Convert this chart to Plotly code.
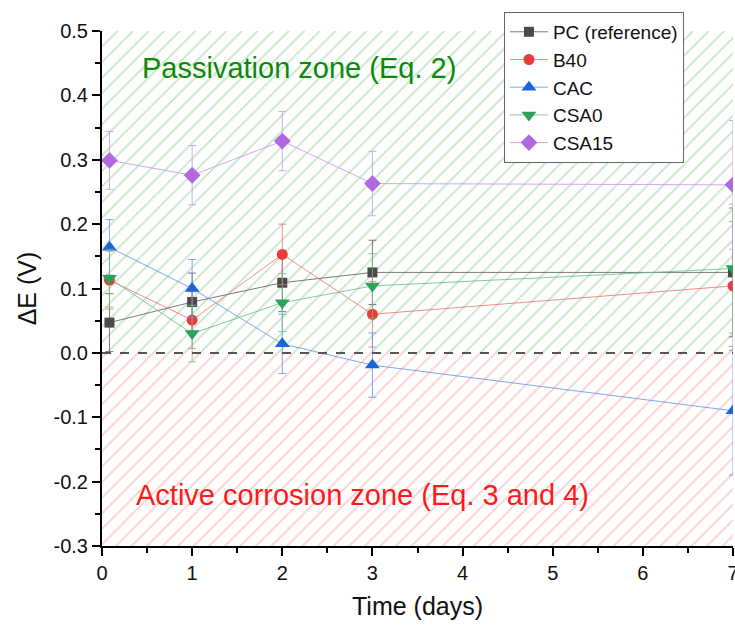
import plotly.graph_objects as go

# Sampling times (days)
days = [0.083, 1, 2, 3, 7]

# Potential difference ΔE (V) for each mix, with standard deviations
pc_ref = [0.047, 0.079, 0.109, 0.125, 0.125]
pc_err = [0.045, 0.045, 0.045, 0.050, 0.100]

b40 = [0.113, 0.051, 0.153, 0.060, 0.104]
b40_err = [0.045, 0.044, 0.047, 0.051, 0.100]

cac = [0.164, 0.100, 0.014, -0.019, -0.090]
cac_err = [0.043, 0.045, 0.046, 0.050, 0.100]

csa0 = [0.116, 0.030, 0.078, 0.104, 0.131]
csa0_err = [0.045, 0.044, 0.045, 0.050, 0.100]

csa15 = [0.299, 0.276, 0.329, 0.263, 0.261]
csa15_err = [0.045, 0.046, 0.046, 0.050, 0.100]

x_ticks = [0, 1, 2, 3, 4, 5, 6, 7]
y_ticks = [-0.3, -0.2, -0.1, 0.0, 0.1, 0.2, 0.3, 0.4, 0.5]
y_tick_text = [f"{v:.1f}" for v in y_ticks]

FONT = "Liberation Sans, Arial, sans-serif"

fig = go.Figure()

# Hatched zones
fig.add_trace(go.Scatter(
    x=[0, 7, 7, 0, 0], y=[0, 0, 0.5, 0.5, 0], mode="none", fill="toself",
    fillcolor="rgba(0,0,0,0)",
    fillpattern=dict(shape="/", fgcolor="#8acb8a", bgcolor="white",
                     size=11, solidity=0.15),
    hoverinfo="skip", showlegend=False))
fig.add_trace(go.Scatter(
    x=[0, 7, 7, 0, 0], y=[-0.3, -0.3, 0, 0, -0.3], mode="none", fill="toself",
    fillcolor="rgba(0,0,0,0)",
    fillpattern=dict(shape="/", fgcolor="#f59c9c", bgcolor="white",
                     size=11, solidity=0.15),
    hoverinfo="skip", showlegend=False))

series = [
    ("PC (reference)", pc_ref, pc_err, "square", 10, "#4a4a4a", "rgba(90,90,90,0.8)"),
    ("B40", b40, b40_err, "circle", 11, "#ee3a3a", "rgba(240,110,110,0.8)"),
    ("CAC", cac, cac_err, "triangle-up", 13, "#1a64dc", "rgba(90,150,230,0.8)"),
    ("CSA0", csa0, csa0_err, "triangle-down", 13, "#2ca25a", "rgba(100,190,130,0.8)"),
    ("CSA15", csa15, csa15_err, "diamond", 13, "#b06ae0", "rgba(200,160,235,0.9)"),
]

for name, vals, errs, sym, size, mcol, lcol in series:
    fig.add_trace(go.Scatter(
        x=days, y=vals, name=name, mode="lines+markers",
        line=dict(color=lcol, width=1),
        marker=dict(symbol=sym, size=size, color=mcol, line=dict(width=0)),
        error_y=dict(type="data", array=errs, visible=True, color=lcol,
                     thickness=1, width=4),
    ))

# Zero reference line
fig.add_shape(type="line", x0=0, x1=7, y0=0, y1=0, xref="x", yref="y",
              line=dict(color="#555555", width=2, dash="dash"))

fig.add_annotation(x=0.42, y=0.443, xref="x", yref="y", xanchor="left",
                   text="Passivation zone (Eq. 2)", showarrow=False,
                   font=dict(family=FONT, size=29, color="#0a8a0a"))
fig.add_annotation(x=0.35, y=-0.221, xref="x", yref="y", xanchor="left",
                   text="Active corrosion zone (Eq. 3 and 4)", showarrow=False,
                   font=dict(family=FONT, size=29, color="#ff1a1a"))

fig.update_xaxes(
    range=[0, 7], tickvals=x_ticks, ticks="outside", ticklen=8, tickwidth=2,
    tickcolor="black", showline=True, linecolor="black", linewidth=2,
    showgrid=False, zeroline=False, ticklabeloverflow="allow", automargin=False,
    minor=dict(dtick=0.5, ticks="outside", ticklen=5, tickwidth=2, tickcolor="black"),
    title=dict(text="Time (days)", font=dict(family=FONT, size=25, color="#111"),
               standoff=14),
    tickfont=dict(family=FONT, size=20, color="#111"),
)
fig.update_yaxes(
    range=[-0.3, 0.5], tickvals=y_ticks, ticktext=y_tick_text, ticks="outside",
    ticklen=8, tickwidth=2, tickcolor="black", showline=True, linecolor="black",
    linewidth=2, showgrid=False, zeroline=False, automargin=False,
    minor=dict(dtick=0.05, ticks="outside", ticklen=5, tickwidth=2, tickcolor="black"),
    title=dict(text="ΔE (V)", font=dict(family=FONT, size=25, color="#111"),
               standoff=10),
    tickfont=dict(family=FONT, size=20, color="#111"),
)

fig.update_layout(
    width=735, height=628,
    margin=dict(l=102, r=2, t=31, b=82),
    plot_bgcolor="white", paper_bgcolor="white",
    legend=dict(x=0.637, y=1.037, xanchor="left", yanchor="top",
                bgcolor="white", bordercolor="#666", borderwidth=1,
                font=dict(family=FONT, size=19, color="#111"),
                tracegroupgap=0, itemwidth=38),
)

fig.write_html("out.html")
